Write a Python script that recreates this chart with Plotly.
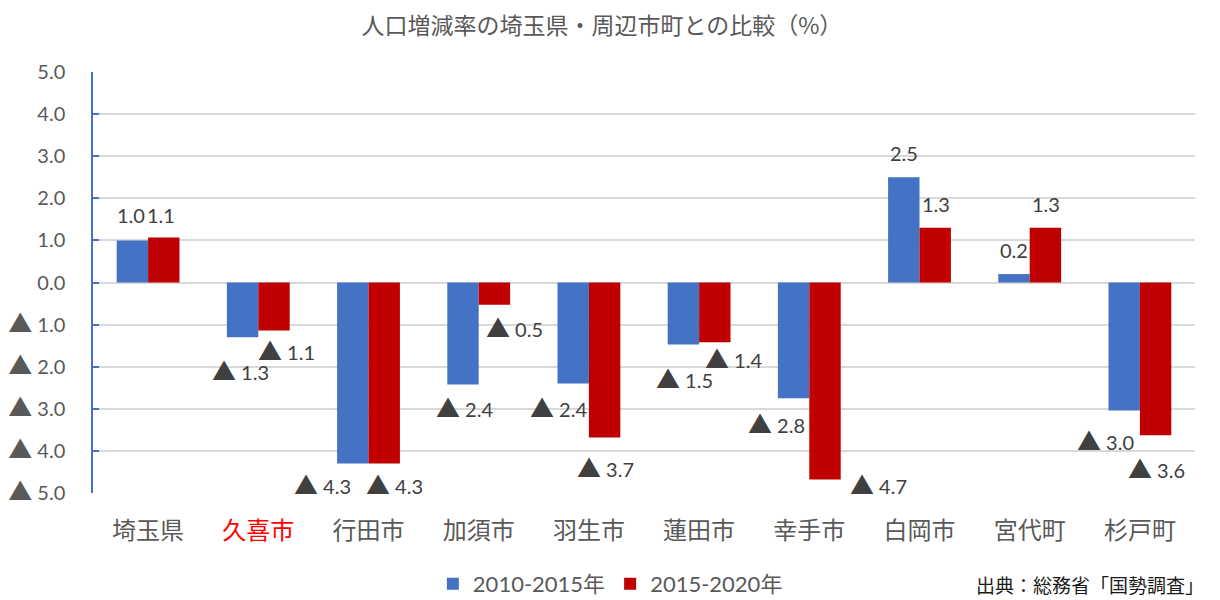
import plotly.graph_objects as go

categories = ["埼玉県", "久喜市", "行田市", "加須市", "羽生市", "蓮田市", "幸手市", "白岡市", "宮代町", "杉戸町"]
series_names = ["2010-2015年", "2015-2020年"]
rate_2010_2015 = [1.0, -1.3, -4.3, -2.42, -2.4, -1.47, -2.75, 2.5, 0.2, -3.04]
rate_2015_2020 = [1.07, -1.14, -4.3, -0.53, -3.68, -1.42, -4.68, 1.3, 1.3, -3.63]
y_tick_values = [5, 4, 3, 2, 1, 0, -1, -2, -3, -4, -5]
highlight_category = "久喜市"

title_text = "人口増減率の埼玉県・周辺市町との比較（%）"
source_text = "出典：総務省「国勢調査」"

BLUE = "#4472C4"
RED = "#C00000"
LABEL_COLOR = "#404040"
TICK_COLOR = "#595959"
FONT = "Lato, 'Noto Sans CJK JP', sans-serif"
CJK = "'Noto Sans CJK JP', sans-serif"
TRI = "<span style='font-size:24px'>▲</span>"

# figure geometry (page body has an 8px margin)
W, H = 1212, 592
L, R, T, B = 85, 25, 64, 107

# label placement styling (pixel offsets relative to bar end)
blue_dx = [-1, -2, -30, 2, -14, 1, -17, 0, 0, -18]
blue_dy = [25, 33, 21, 23, 24, 34, 25, 24, 24, 30]
red_dx = [-3, 12, 10, 20, 1, 18, 53, 0, 0, 1]
red_dy = [22, 20, 21, 23, 30, 16, 5, 24, 24, 33]
bar_offset = 16


def fmt(v):
    if v < 0:
        return TRI + " " + f"{abs(v):.1f}"
    return f"{v:.1f}"


fig = go.Figure()
fig.add_trace(go.Bar(x=categories, y=rate_2010_2015, name=series_names[0],
                     marker=dict(color=BLUE, line=dict(width=0))))
fig.add_trace(go.Bar(x=categories, y=rate_2015_2020, name=series_names[1],
                     marker=dict(color=RED, line=dict(width=0))))

annotations = []
for vals, dxs, dys, sign in ((rate_2010_2015, blue_dx, blue_dy, -1),
                             (rate_2015_2020, red_dx, red_dy, 1)):
    for cat, v, dx, dy in zip(categories, vals, dxs, dys):
        annotations.append(dict(
            x=cat, y=v, xref="x", yref="y", text=fmt(v), showarrow=False,
            xshift=sign * bar_offset + dx, yshift=dy if v >= 0 else -dy,
            font=dict(family=FONT, size=20, color=LABEL_COLOR),
            xanchor="center", yanchor="middle"))

plot_w = W - L - R
plot_h = H - T - B
annotations.append(dict(
    x=(1198 - L) / plot_w, y=-(H - (H - B)) / plot_h,
    xref="paper", yref="paper", text=source_text, showarrow=False,
    xanchor="right", yanchor="bottom",
    font=dict(family=CJK, size=19, color="#1A1A1A")))

tick_text_x = [f"<span style='color:#FF0000'>{c}</span>" if c == highlight_category else c
               for c in categories]

fig.update_layout(
    width=W, height=H,
    paper_bgcolor="white", plot_bgcolor="white",
    margin=dict(l=L, r=R, t=T, b=B, autoexpand=False),
    barmode="group", bargap=0.43, bargroupgap=0,
    title=dict(text=title_text, x=0.49, xref="container", y=0.969, yref="container",
               xanchor="center", yanchor="middle", automargin=False,
               font=dict(family=CJK, size=23, color=TICK_COLOR)),
    legend=dict(orientation="h", x=0.497, xref="container", xanchor="center",
                y=0.027, yref="container", yanchor="middle",
                font=dict(family=FONT, size=22, color=TICK_COLOR),
                itemwidth=30, traceorder="normal"),
    annotations=annotations,
    showlegend=True,
)

fig.update_xaxes(
    tickvals=categories, ticktext=tick_text_x,
    tickfont=dict(family=CJK, size=24, color=TICK_COLOR),
    showline=False, showgrid=False, ticks="", ticklabelstandoff=21,
    automargin=False,
)
fig.update_yaxes(
    range=[-5, 5], tickvals=y_tick_values,
    ticktext=[fmt(v) for v in y_tick_values],
    tickfont=dict(family=FONT, size=20, color=TICK_COLOR),
    showgrid=True, gridcolor="#D9D9D9", gridwidth=1.5,
    zeroline=True, zerolinecolor="#D9D9D9", zerolinewidth=1.5,
    showline=True, linecolor=BLUE, linewidth=1.5,
    ticks="inside", ticklen=6, tickcolor=BLUE, tickwidth=1.5,
    ticklabelstandoff=22, automargin=False,
)

fig.write_html("out.html")
